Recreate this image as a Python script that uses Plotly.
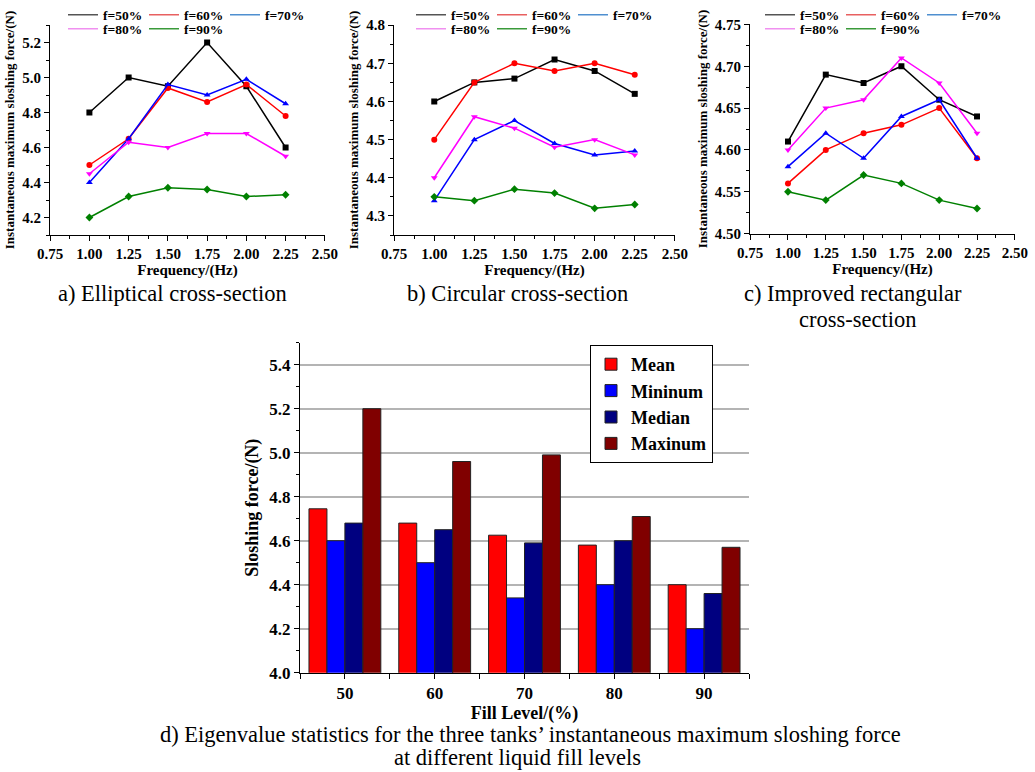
import plotly.graph_objects as go

W, H = 1035, 772
FONT = "Liberation Serif, Times New Roman, Times, DejaVu Serif, serif"

# ---------------- data ----------------
freq = [1.00, 1.25, 1.50, 1.75, 2.00, 2.25]
fill_names = ["f=50%", "f=60%", "f=70%", "f=80%", "f=90%"]

# a) Elliptical
ell_50 = [4.80, 5.00, 4.95, 5.20, 4.95, 4.60]
ell_60 = [4.50, 4.65, 4.94, 4.86, 4.96, 4.78]
ell_70 = [4.40, 4.65, 4.96, 4.90, 4.99, 4.85]
ell_80 = [4.45, 4.63, 4.60, 4.68, 4.68, 4.55]
ell_90 = [4.20, 4.32, 4.37, 4.36, 4.32, 4.33]

# b) Circular
cir_50 = [4.60, 4.65, 4.66, 4.71, 4.68, 4.62]
cir_60 = [4.50, 4.65, 4.70, 4.68, 4.70, 4.67]
cir_70 = [4.34, 4.50, 4.55, 4.49, 4.46, 4.47]
cir_80 = [4.40, 4.56, 4.53, 4.48, 4.50, 4.46]
cir_90 = [4.35, 4.34, 4.37, 4.36, 4.32, 4.33]

# c) Improved rectangular
rec_50 = [4.61, 4.69, 4.68, 4.70, 4.66, 4.64]
rec_60 = [4.56, 4.60, 4.62, 4.63, 4.65, 4.59]
rec_70 = [4.58, 4.62, 4.59, 4.64, 4.66, 4.59]
rec_80 = [4.60, 4.65, 4.66, 4.71, 4.68, 4.62]
rec_90 = [4.55, 4.54, 4.57, 4.56, 4.54, 4.53]

# d) statistics
fill_levels = [50, 60, 70, 80, 90]
stat_names = ["Mean", "Mininum", "Median", "Maxinum"]
stat_mean = [4.745, 4.68, 4.625, 4.58, 4.40]
stat_min = [4.60, 4.50, 4.34, 4.40, 4.20]
stat_median = [4.68, 4.65, 4.59, 4.60, 4.36]
stat_max = [5.20, 4.96, 4.99, 4.71, 4.57]

# ---------------- styles ----------------
line_colors = ["#000000", "#FF0000", "#0000FF", "#FF00FF", "#008000"]
legend_colors = ["#555555", "#E86060", "#4F8FD0", "#F090F0", "#3A9A3A"]
symbols = ["square", "circle", "triangle-up", "triangle-down", "diamond"]
bar_colors = ["#FF0000", "#0000FF", "#000080", "#800000"]


def px(x):
    return x / W


def py(y):
    return 1 - y / H


fig = go.Figure()

panels = [
    dict(series=[ell_50, ell_60, ell_70, ell_80, ell_90], ax="", dom_x=(50, 325), dom_y=(25, 235),
         yr=[4.1, 5.3], dt=0.2, t0=4.2, mdt=0.1, fmt=".1f", leg_x=100, legs=("legend", "legend2")),
    dict(series=[cir_50, cir_60, cir_70, cir_80, cir_90], ax="2", dom_x=(394, 675), dom_y=(25, 235),
         yr=[4.25, 4.8005], dt=0.1, t0=4.3, mdt=0.05, fmt=".1f", leg_x=448, legs=("legend3", "legend4")),
    dict(series=[rec_50, rec_60, rec_70, rec_80, rec_90], ax="3", dom_x=(750, 1015), dom_y=(24, 234),
         yr=[4.4995, 4.7505], dt=0.05, t0=4.5, mdt=0.025, fmt=".2f", leg_x=797, legs=("legend5", "legend6")),
]

tick_font = dict(family=FONT, size=15, color="black", weight="bold")
layout_axes = {}
for p in panels:
    xa = "x" + p["ax"]
    ya = "y" + p["ax"]
    for i, ys in enumerate(p["series"]):
        fig.add_trace(go.Scatter(
            x=freq, y=ys, mode="lines+markers", name=fill_names[i], xaxis=xa, yaxis=ya,
            line=dict(color=line_colors[i], width=1.5),
            marker=dict(symbol=symbols[i], size=6, color=line_colors[i]),
            showlegend=False))
    # legend entries (two rows)
    for i in range(5):
        fig.add_trace(go.Scatter(
            x=[None], y=[None], mode="lines", name=fill_names[i], xaxis=xa, yaxis=ya,
            line=dict(color=legend_colors[i], width=1.5),
            legend=p["legs"][0] if i < 3 else p["legs"][1], showlegend=True))
    layout_axes["xaxis" + p["ax"]] = dict(
        domain=[px(p["dom_x"][0]), px(p["dom_x"][1])], anchor=ya,
        range=[0.749, 2.501], tick0=0.75, dtick=0.25, tickformat=".2f",
        showline=True, linecolor="black", linewidth=1, mirror=False,
        ticks="outside", ticklen=5, tickwidth=1, tickcolor="black",
        minor=dict(dtick=0.125, ticks="outside", ticklen=3, tickwidth=1, tickcolor="black"),
        showgrid=False, zeroline=False, tickfont=tick_font,
        title=dict(text="Frequency/(Hz)", font=dict(family=FONT, size=15, color="black", weight="bold"), standoff=0))
    layout_axes["yaxis" + p["ax"]] = dict(
        domain=[py(p["dom_y"][1]), py(p["dom_y"][0])], anchor=xa,
        range=p["yr"], tick0=p["t0"], dtick=p["dt"], tickformat=p["fmt"],
        showline=True, linecolor="black", linewidth=1, mirror=False,
        ticks="outside", ticklen=5, tickwidth=1, tickcolor="black",
        minor=dict(dtick=p["mdt"], ticks="outside", ticklen=3, tickwidth=1, tickcolor="black"),
        showgrid=False, zeroline=False, tickfont=tick_font,
        title=dict(text="Instantaneous maximum sloshing force/(N)",
                   font=dict(family=FONT, size=13, color="black", weight="bold"), standoff=4))

# bar chart
stats = [stat_mean, stat_min, stat_median, stat_max]
for i, vals in enumerate(stats):
    fig.add_trace(go.Bar(
        x=fill_levels, y=vals, name=stat_names[i], xaxis="x4", yaxis="y4",
        marker=dict(color=bar_colors[i], line=dict(color="#222222", width=1)),
        legend="legend7", legendgroup=stat_names[i]))

layout_axes["xaxis4"] = dict(
    domain=[px(300), px(749)], anchor="y4", range=[45, 95], tick0=50, dtick=10,
    showline=True, linecolor="black", linewidth=1,
    ticks="outside", ticklen=5, tickwidth=1, tickcolor="black",
    minor=dict(dtick=5, ticks="outside", ticklen=5, tickwidth=1, tickcolor="black"),
    showgrid=False, zeroline=False,
    tickfont=dict(family=FONT, size=17, color="black", weight="bold"),
    title=dict(text="Fill Level/(%)", font=dict(family=FONT, size=18, color="black", weight="bold"), standoff=0))
layout_axes["yaxis4"] = dict(
    domain=[py(672.7), py(342.7)], anchor="x4", range=[4.0, 5.5], tick0=4.0, dtick=0.2,
    tickformat=".1f",
    showline=True, linecolor="black", linewidth=1,
    ticks="outside", ticklen=5, tickwidth=1, tickcolor="black",
    minor=dict(dtick=0.1, ticks="outside", ticklen=3, tickwidth=1, tickcolor="black"),
    showgrid=True, gridcolor="#B4B4B4", gridwidth=1.5, zeroline=False,
    tickfont=dict(family=FONT, size=17, color="black", weight="bold"),
    title=dict(text="Sloshing force/(N)", font=dict(family=FONT, size=18, color="black", weight="bold"), standoff=6))

# legends for line panels
legend_font = dict(family=FONT, size=13.5, color="black", weight="bold")
legends = {}
row_y = [15, 29]
for p in panels:
    for r, name in enumerate(p["legs"]):
        legends[name] = dict(
            orientation="h", x=px(p["leg_x"] - 37), xanchor="left",
            y=py(row_y[r]), yanchor="middle",
            entrywidth=36, entrywidthmode="pixels",
            bgcolor="rgba(0,0,0,0)", borderwidth=0, font=legend_font,
            itemwidth=30, tracegroupgap=0)
legends["legend7"] = dict(
    orientation="v", x=px(590), xanchor="left", y=py(345), yanchor="top",
    bgcolor="white", bordercolor="black", borderwidth=1,
    font=dict(family=FONT, size=18, color="black", weight="bold"),
    traceorder="grouped", tracegroupgap=0, itemwidth=30)

# captions
cap_font = dict(family=FONT, size=22.5, color="black")
captions = [
    ("a) Elliptical cross-section", 172, 293),
    ("b) Circular cross-section", 517, 293),
    ("c) Improved rectangular", 853, 293),
    ("cross-section", 857, 319),
    ("d) Eigenvalue statistics for the three tanks\u2019 instantaneous maximum sloshing force", 530, 734),
    ("at different liquid fill levels", 517, 757),
]
annotations = [dict(text=t, x=px(cx), y=py(cy), xref="paper", yref="paper", xanchor="center",
                    yanchor="middle", showarrow=False, font=cap_font) for t, cx, cy in captions]

fig.update_layout(
    width=W, height=H, margin=dict(l=0, r=0, t=0, b=0, autoexpand=False),
    paper_bgcolor="white", plot_bgcolor="white",
    font=dict(family=FONT, color="black"),
    barmode="group", bargap=0.2, bargroupgap=0,
    annotations=annotations,
    **layout_axes, **legends)

fig.write_html("out.html", config={"displayModeBar": False},
               post_script="document.body.style.margin='0';document.body.style.overflow='hidden';")
